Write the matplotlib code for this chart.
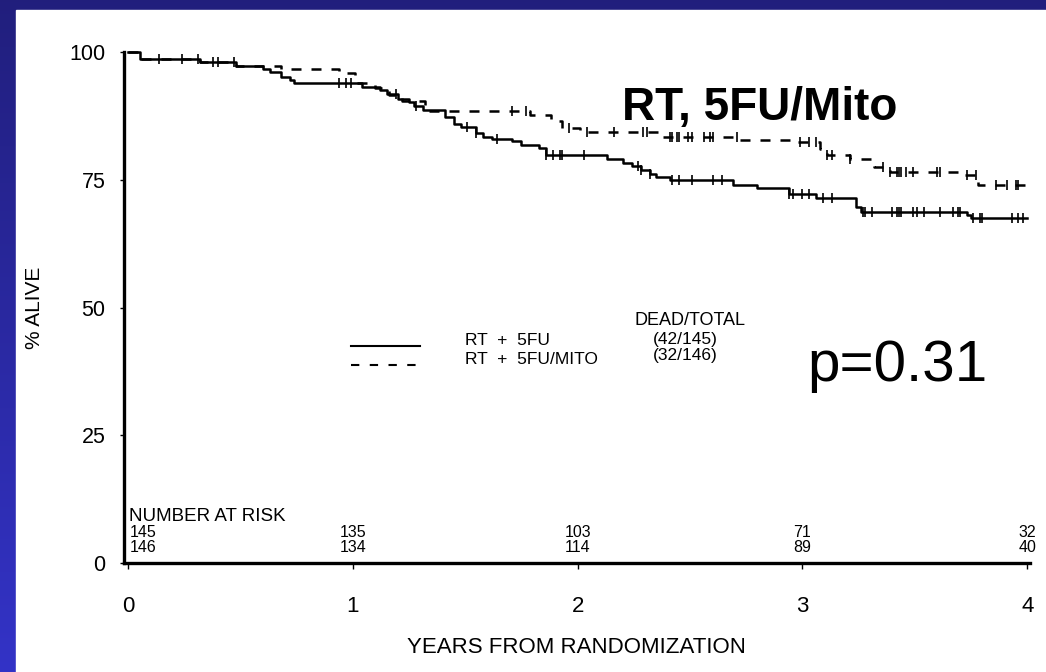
import numpy as np
import matplotlib
matplotlib.use("Agg")
import matplotlib.pyplot as plt
from matplotlib.patches import Rectangle

plt.rcParams["font.family"] = ["Liberation Sans", "DejaVu Sans"]

# Curvas de sobrevida (Kaplan-Meier)
rt5fu_t = [0, 0.053, 0.32, 0.48, 0.60, 0.63, 0.68, 0.72, 0.74, 1.04, 1.12, 1.15, 1.20, 1.25,
           1.27, 1.31, 1.41, 1.45, 1.48, 1.55, 1.58, 1.62, 1.71, 1.75, 1.83, 1.86, 2.13, 2.20,
           2.24, 2.28, 2.32, 2.35, 2.41, 2.69, 2.80, 2.94, 3.06, 3.24, 3.26, 3.73, 3.75, 4.0]
rt5fu_v = [100, 98.6, 98.0, 97.3, 96.6, 96.0, 95.2, 94.5, 93.9, 93.2, 92.6, 91.8, 90.9, 90.3,
           89.4, 88.6, 87.3, 86.0, 85.3, 84.2, 83.4, 83.0, 82.5, 81.8, 81.2, 79.8, 79.0, 78.2,
           77.6, 76.9, 76.1, 75.5, 75.0, 74.0, 73.3, 72.3, 71.4, 69.7, 68.7, 68.1, 67.6, 67.6]

mito_t = [0, 0.053, 0.32, 0.48, 0.68, 0.94, 1.01, 1.10, 1.16, 1.22, 1.32, 1.79, 1.88, 1.93,
          2.01, 2.36, 2.72, 2.96, 3.08, 3.11, 3.21, 3.32, 3.39, 3.70, 3.78, 4.0]
mito_v = [100, 98.6, 98.0, 97.3, 96.6, 95.8, 94.0, 93.0, 91.5, 90.5, 88.5, 87.7, 86.4, 85.1,
          84.4, 83.4, 82.8, 82.3, 81.0, 79.8, 79.0, 77.4, 76.6, 76.0, 74.0, 74.0]

# Censuras (marcas verticais)
rt5fu_cens = [0.14, 0.24, 0.31, 0.38, 0.40, 0.47, 0.94, 0.97, 0.99, 1.19, 1.28, 1.51, 1.55,
              1.64, 1.86, 1.89, 1.92, 1.93, 2.03, 2.27, 2.28, 2.32, 2.42, 2.45, 2.51, 2.60,
              2.64, 2.94, 2.96, 3.00, 3.03, 3.09, 3.13, 3.27, 3.28, 3.31, 3.40, 3.42, 3.43,
              3.44, 3.49, 3.51, 3.54, 3.61, 3.67, 3.69, 3.70, 3.76, 3.79, 3.80, 3.93, 3.96, 3.98]
mito_cens = [1.71, 1.77, 1.96, 2.04, 2.16, 2.29, 2.31, 2.41, 2.42, 2.44, 2.45, 2.49, 2.51,
             2.56, 2.59, 2.60, 2.71, 2.99, 3.03, 3.06, 3.11, 3.13, 3.21, 3.36, 3.39, 3.42,
             3.43, 3.44, 3.46, 3.49, 3.60, 3.61, 3.73, 3.77, 3.86, 3.91, 3.95, 3.96]

# Número em risco
risk_years = [0, 1, 2, 3, 4]
risk_rt5fu = [145, 135, 103, 71, 32]
risk_mito = [146, 134, 114, 89, 40]

y_ticks = [0, 25, 50, 75, 100]
x_ticks = [0, 1, 2, 3, 4]


def step_value(t, v, c):
    idx = np.searchsorted(t, c, side="right") - 1
    return np.array(v)[idx]


fig = plt.figure(figsize=(10.46, 6.72), dpi=100)

# Fundo azul em degradê + painel branco
bg = fig.add_axes([0, 0, 1, 1])
grad = np.linspace(0, 1, 256).reshape(-1, 1)
top = np.array([0.13, 0.12, 0.49])
bottom = np.array([0.20, 0.20, 0.78])
img = top + (bottom - top) * grad[:, :, None]
bg.imshow(img, aspect="auto", extent=[0, 1, 0, 1], origin="upper")
bg.add_patch(Rectangle((16 / 1046, 0), 1, 662 / 672, color="white"))
bg.set_xlim(0, 1)
bg.set_ylim(0, 1)
bg.axis("off")

ax = fig.add_axes([123.5 / 1046, 109 / 672, 906 / 1046, 511 / 672])
ax.set_facecolor("none")

ax.step(rt5fu_t, rt5fu_v, where="post", color="black", lw=1.8, clip_on=False)
ax.step(mito_t, mito_v, where="post", color="black", lw=1.8, dashes=(4, 4), clip_on=False)
ax.plot(rt5fu_cens, step_value(rt5fu_t, rt5fu_v, rt5fu_cens), ls="none", marker="|",
        ms=7, mew=1.2, color="black")
ax.plot(mito_cens, step_value(mito_t, mito_v, mito_cens), ls="none", marker="|",
        ms=7, mew=1.2, color="black")

ax.set_xlim(-0.02, 4.01)
ax.set_ylim(0, 100)
for s in ["top", "right"]:
    ax.spines[s].set_visible(False)
for s in ["left", "bottom"]:
    ax.spines[s].set_linewidth(2.4)

ax.set_yticks(y_ticks)
ax.set_xticks(x_ticks)
ax.tick_params(axis="y", length=3, width=1, pad=10, labelsize=15.5)
ax.tick_params(axis="x", length=4, width=1, pad=20, labelsize=16)
ax.set_ylabel("% ALIVE", fontsize=15, labelpad=18)
ax.set_xlabel("YEARS FROM RANDOMIZATION", fontsize=16, labelpad=14)

# Legenda
ax.plot([0.99, 1.30], [42.4, 42.4], color="black", lw=1.5)
ax.plot([0.99, 1.30], [38.7, 38.7], color="black", lw=1.5, dashes=(4, 5))
ax.text(1.50, 42.6, "RT  +  5FU", fontsize=12.5, va="baseline")
ax.text(1.50, 39.0, "RT  +  5FU/MITO", fontsize=12.5, va="baseline")
ax.text(2.50, 46.6, "DEAD/TOTAL", fontsize=13, ha="center", va="baseline")
ax.text(2.48, 42.8, "(42/145)", fontsize=12.5, ha="center", va="baseline")
ax.text(2.48, 39.7, "(32/146)", fontsize=12.5, ha="center", va="baseline")

ax.text(2.196, 86.7, "RT, 5FU/Mito", fontsize=33, fontweight="bold", va="baseline")
ax.text(3.02, 35.6, "p=0.31", fontsize=42, va="baseline")

# Número em risco
ax.text(0.005, 8.2, "NUMBER AT RISK", fontsize=13.5, va="baseline")
for i, yr in enumerate(risk_years):
    ha = "left" if yr == 0 else "center"
    xx = yr + 0.01 if yr == 0 else yr
    ax.text(xx, 5.1, str(risk_rt5fu[i]), fontsize=11.5, ha=ha, va="baseline")
    ax.text(xx, 2.2, str(risk_mito[i]), fontsize=11.5, ha=ha, va="baseline")

fig.savefig("out.png", dpi=100)
